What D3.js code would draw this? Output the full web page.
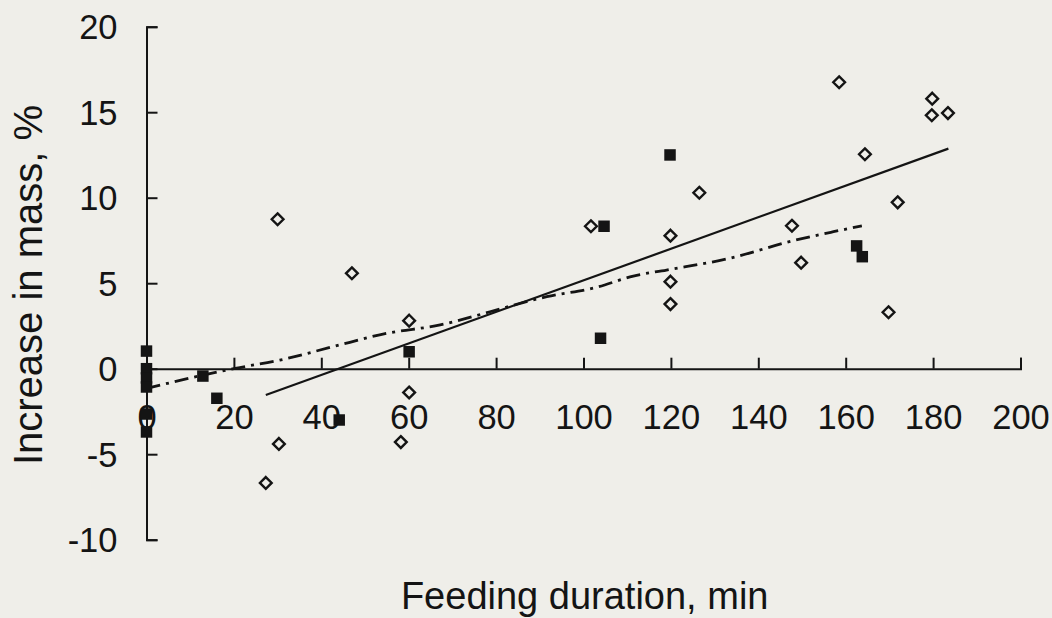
<!DOCTYPE html>
<html>
<head>
<meta charset="utf-8">
<script src="https://cdn.jsdelivr.net/npm/d3@7"></script>
<style>
  html, body { margin: 0; padding: 0; background: #efeee9; }
  svg { display: block; }
  text { font-family: "Liberation Sans", Arial, sans-serif; fill: #141414; }
</style>
</head>
<body>
<svg id="chart" width="1052" height="618"></svg>
<script>
// ---- data ----
const openX = [30.0, 47.0, 60.1, 60.1, 58.2, 30.3, 27.3, 101.7, 119.9, 119.9, 119.9, 126.5, 147.7, 149.8, 158.5, 164.4, 171.9, 169.8, 179.8, 179.7, 183.4];
const openY = [8.74, 5.58, 2.81, -1.39, -4.29, -4.40, -6.68, 8.33, 7.78, 5.09, 3.78, 10.29, 8.36, 6.20, 16.75, 12.54, 9.73, 3.30, 15.79, 14.82, 14.95];

const filledX = [0, 0, 0, 0, 0, 0, 12.9, 16.1, 44.1, 60.1, 104.7, 103.9, 119.8, 162.5, 163.8];
const filledY = [1.03, 0.0, -0.54, -1.07, -2.65, -3.70, -0.43, -1.73, -3.0, 0.99, 8.33, 1.78, 12.5, 7.18, 6.55];

// solid regression line (end points)
const solidX = [27.3, 183.5];
const solidY = [-1.54, 12.87];

// dash-dot trend line
const dashX = [0, 20.3, 30.5, 42.7, 55.0, 67.2, 78.6, 85.5, 91.6, 103.0, 111.4, 119.0, 133.5, 148.0, 157.2, 163.7];
const dashY = [-1.15, 0.02, 0.5, 1.29, 2.07, 2.56, 3.33, 3.82, 4.21, 4.76, 5.42, 5.77, 6.46, 7.49, 8.01, 8.35];

const xTicks = [0, 20, 40, 60, 80, 100, 120, 140, 160, 180, 200];
const yTicks = [-10, -5, 0, 5, 10, 15, 20];
const xTitle = "Feeding duration, min";
const yTitle = "Increase in mass, %";

// ---- drawing ----
const svg = d3.select("#chart");
const bg = "#efeee9";
const ink = "#141414";
const fam = "Liberation Sans, Arial, sans-serif";

const x = d3.scaleLinear().domain([0, 200]).range([146.5, 1020.5]);
const y = d3.scaleLinear().domain([-10, 20]).range([539.7, 26.7]);

// y axis (ticks pointing right, labels on the left)
const yAxis = d3.axisLeft(y).tickValues(yTicks).tickFormat(d => String(d))
  .tickSize(-11).tickSizeOuter(-11).tickPadding(29);
const gy = svg.append("g").attr("transform", `translate(${x(0)},0)`).call(yAxis);
gy.select(".domain").attr("stroke", ink).attr("stroke-width", 2);
gy.selectAll(".tick line").attr("stroke", ink).attr("stroke-width", 2);
gy.selectAll(".tick text").attr("font-size", 34.5).attr("fill", ink)
  .attr("font-family", fam).attr("dy", "0.35em");

// x axis at y = 0 (ticks pointing up, labels below)
const xAxis = d3.axisBottom(x).tickValues(xTicks).tickFormat(d => String(d))
  .tickSize(-11).tickSizeOuter(-11).tickPadding(36.3);
const gx = svg.append("g").attr("transform", `translate(0,${y(0)})`).call(xAxis);
gx.select(".domain").attr("stroke", ink).attr("stroke-width", 2);
gx.selectAll(".tick line").attr("stroke", ink).attr("stroke-width", 2);
gx.selectAll(".tick text").attr("font-size", 34.5).attr("fill", ink)
  .attr("font-family", fam);

// lines
const line = d3.line().x(d => x(d[0])).y(d => y(d[1]));
svg.append("path")
  .datum(dashX.map((v, i) => [v, dashY[i]]))
  .attr("d", line.curve(d3.curveMonotoneX))
  .attr("fill", "none").attr("stroke", ink).attr("stroke-width", 2.8)
  .attr("stroke-dasharray", "14,6,3,6");
svg.append("path")
  .datum(solidX.map((v, i) => [v, solidY[i]]))
  .attr("d", d3.line().x(d => x(d[0])).y(d => y(d[1])))
  .attr("fill", "none").attr("stroke", ink).attr("stroke-width", 2.2);

// open diamonds
const diamond = d3.symbol().type(d3.symbolDiamond2 || d3.symbolSquare).size(88);
svg.append("g").selectAll("path")
  .data(openX.map((v, i) => [v, openY[i]]))
  .join("path")
  .attr("d", diamond)
  .attr("transform", d => `translate(${x(d[0])},${y(d[1])})`)
  .attr("fill", bg).attr("stroke", ink).attr("stroke-width", 2.4);

// filled squares
const square = d3.symbol().type(d3.symbolSquare).size(132);
svg.append("g").selectAll("path")
  .data(filledX.map((v, i) => [v, filledY[i]]))
  .join("path")
  .attr("d", square)
  .attr("transform", d => `translate(${x(d[0])},${y(d[1])})`)
  .attr("fill", ink);

// axis titles
svg.append("text")
  .attr("x", 584.7).attr("y", 609)
  .attr("text-anchor", "middle").attr("font-size", 38)
  .text(xTitle);
svg.append("text")
  .attr("transform", "translate(42,285) rotate(-90)")
  .attr("text-anchor", "middle").attr("font-size", 40)
  .text(yTitle);
</script>
</body>
</html>
